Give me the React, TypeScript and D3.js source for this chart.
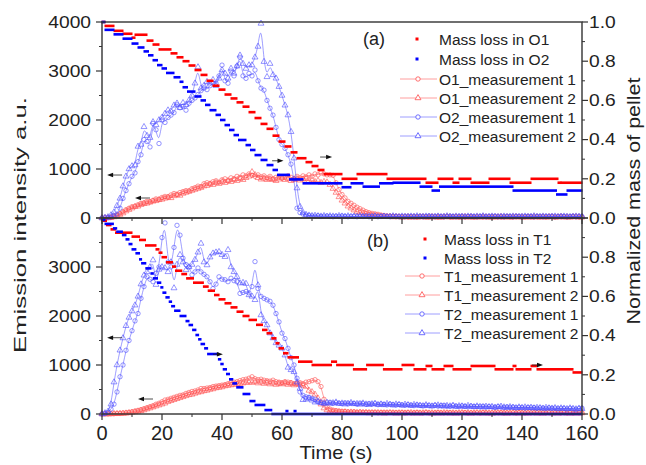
import React from "react";
import * as d3 from "d3";

// ---------------- DATA ----------------
// emission intensity sampled every 1 s (t = 0..160)
const TIME_STEP = 1;

const O1_M1 = [
  0, 0, 5, 10, 40, 60, 90, 130, 170, 200,
  230, 240, 270, 300, 310, 340, 330, 360, 390, 380,
  420, 440, 430, 470, 500, 480, 520, 540, 560, 550,
  600, 620, 650, 640, 700, 720, 700, 740, 760, 730,
  780, 800, 760, 820, 800, 850, 830, 880, 860, 900,
  870, 850, 880, 840, 860, 820, 850, 800, 830, 850,
  810, 840, 860, 830, 800, 850, 820, 860, 840, 880,
  850, 900, 880, 920, 900, 880, 880, 870, 720, 580,
  480, 410, 340, 300, 260, 220, 190, 160, 130, 110,
  95, 85, 75, 60, 50, 40, 35, 30, 25, 30,
  20, 25, 15, 20, 25, 15, 20, 25, 20, 15,
  20, 25, 15, 20, 20, 25, 15, 20, 25, 15,
  20, 15, 25, 20, 15, 20, 25, 15, 20, 20,
  15, 25, 20, 15, 20, 25, 20, 15, 20, 25,
  15, 20, 25, 20, 15, 20, 20, 25, 15, 20,
  25, 15, 20, 20, 25, 15, 20, 25, 20, 15,
  20,
];
const O1_M2 = [
  0, 0, 0, 5, 20, 45, 70, 100, 140, 170,
  200, 230, 240, 270, 290, 300, 320, 340, 350, 370,
  380, 400, 420, 410, 450, 470, 460, 500, 520, 540,
  560, 580, 600, 620, 650, 660, 690, 680, 720, 700,
  740, 720, 760, 740, 780, 760, 800, 780, 820, 850,
  940, 880, 820, 790, 810, 780, 800, 780, 760, 790,
  820, 780, 800, 760, 780, 800, 770, 790, 800, 760,
  780, 740, 760, 720, 740, 730, 680, 600, 520, 430,
  360, 300, 240, 200, 160, 130, 110, 95, 80, 65,
  55, 45, 40, 35, 30, 25, 30, 20, 25, 20,
  15, 20, 25, 15, 20, 15, 25, 20, 15, 20,
  25, 15, 20, 15, 20, 25, 20, 15, 20, 15,
  20, 25, 15, 20, 15, 20, 15, 25, 20, 15,
  20, 15, 20, 25, 15, 20, 15, 20, 25, 15,
  20, 15, 20, 15, 25, 20, 15, 20, 15, 25,
  20, 15, 20, 25, 15, 20, 15, 20, 25, 20,
  15,
];
const O2_M1 = [
  0, 5, 10, 20, 40, 80, 200, 400, 560, 700,
  850, 920, 1150, 1290, 1600, 1560, 1450, 1930, 1800, 1520,
  2000, 1950, 2050, 2100, 2150, 2310, 2250, 2280, 2200, 2340,
  2400, 2450, 2520, 2600, 2650, 2620, 2700, 2760, 2750, 2900,
  3120, 2800, 2750, 3000, 2900, 3100, 3280, 2900, 2850, 2950,
  2900, 3020, 2800, 2650, 2610, 2400, 2240, 2100, 1850, 1600,
  1500, 1420, 1290, 1100, 800, 200, 110, 80, 60, 50,
  40, 35, 45, 30, 35, 40, 30, 25, 35, 30,
  40, 30, 25, 35, 30, 25, 35, 30, 40, 25,
  30, 35, 25, 30, 40, 30, 25, 35, 30, 25,
  30, 25, 35, 30, 25, 30, 35, 25, 30, 40,
  30, 25, 35, 30, 25, 30, 35, 30, 25, 30,
  35, 25, 30, 35, 30, 25, 30, 35, 25, 30,
  30, 35, 25, 30, 25, 35, 30, 25, 30, 35,
  25, 30, 35, 30, 25, 30, 35, 25, 30, 30,
  35, 25, 30, 35, 30, 25, 30, 35, 25, 30,
  30,
];
const O2_M2 = [
  0, 10, 20, 60, 120, 250, 400, 650, 850, 1000,
  1060, 1080, 1460, 1500, 1860, 1680, 1640, 1960, 1900, 2000,
  2050, 2130, 2200, 2180, 2300, 2340, 2250, 2350, 2310, 2400,
  2500, 2750, 3080, 2650, 2700, 2780, 2750, 2820, 2700, 2850,
  3020, 2950, 2850, 3050, 2950, 3100, 3320, 3150, 3050, 3120,
  3120, 3280, 3500, 3970, 3190, 2880, 3150, 2920, 2850, 2680,
  2500, 2300, 2100, 1760, 1220, 610, 230, 110, 70, 55,
  45, 50, 40, 35, 45, 30, 40, 35, 30, 45,
  35, 30, 40, 25, 35, 30, 40, 30, 25, 35,
  30, 40, 25, 30, 35, 25, 30, 40, 30, 25,
  35, 30, 25, 35, 30, 40, 25, 30, 35, 30,
  25, 30, 35, 25, 30, 40, 30, 25, 35, 30,
  30, 25, 35, 30, 25, 35, 30, 40, 25, 30,
  35, 30, 25, 30, 35, 25, 30, 35, 30, 25,
  30, 35, 25, 30, 40, 30, 25, 35, 30, 25,
  30, 35, 25, 30, 35, 30, 25, 30, 35, 30,
  30,
];
const T1_M1 = [
  0, 0, 0, 5, 5, 10, 10, 20, 25, 35,
  45, 60, 75, 90, 110, 130, 150, 170, 200, 220,
  250, 285, 300, 320, 340, 360, 380, 390, 420, 440,
  460, 470, 490, 520, 520, 530, 540, 560, 570, 580,
  590, 600, 620, 640, 650, 660, 680, 700, 710, 730,
  760, 720, 700, 710, 690, 680, 670, 690, 660, 650,
  640, 660, 650, 640, 620, 630, 640, 620, 650, 660,
  680, 700, 660, 560, 300, 150, 100, 80, 70, 60,
  55, 50, 45, 40, 45, 35, 40, 35, 30, 35,
  30, 35, 25, 30, 35, 25, 30, 25, 30, 25,
  30, 25, 30, 20, 25, 30, 25, 20, 30, 25,
  20, 25, 30, 25, 20, 25, 30, 20, 25, 20,
  25, 30, 20, 25, 20, 25, 20, 30, 25, 20,
  25, 20, 25, 30, 20, 25, 20, 25, 20, 30,
  25, 20, 25, 20, 25, 30, 20, 25, 20, 25,
  20, 25, 30, 20, 25, 20, 25, 20, 30, 25,
  25,
];
const T1_M2 = [
  0, 0, 0, 0, 5, 5, 10, 10, 15, 20,
  30, 40, 50, 65, 80, 100, 120, 140, 160, 180,
  200, 220, 250, 270, 290, 310, 330, 350, 370, 390,
  400, 420, 440, 450, 470, 480, 500, 510, 530, 540,
  550, 570, 580, 590, 600, 610, 620, 630, 640, 650,
  640, 660, 630, 650, 620, 640, 610, 630, 600, 620,
  610, 630, 600, 620, 590, 610, 600, 580, 560, 480,
  450, 400, 320, 200, 120, 80, 60, 50, 45, 40,
  35, 40, 30, 35, 30, 25, 30, 25, 30, 20,
  25, 20, 25, 20, 15, 20, 25, 20, 15, 20,
  20, 15, 20, 25, 15, 20, 15, 20, 25, 15,
  20, 15, 20, 15, 25, 20, 15, 20, 15, 20,
  25, 15, 20, 15, 20, 25, 15, 20, 15, 20,
  15, 20, 25, 15, 20, 15, 20, 25, 15, 20,
  15, 20, 15, 25, 20, 15, 20, 15, 20, 25,
  15, 20, 15, 20, 25, 15, 20, 15, 20, 15,
  20,
];
const T2_M1 = [
  0, 10, 30, 100, 200, 450, 760, 1000, 1300, 1500,
  1700, 1900, 2050, 2360, 2600, 2800, 2750, 2700, 2870, 3000,
  3600, 3900, 3100, 3000, 3400, 3850, 3650, 3180, 3050, 3000,
  2840, 2900, 2980, 2900, 2850, 2800, 2700, 2560, 2650, 2800,
  2750, 2740, 2700, 2770, 2720, 2700, 2460, 2480, 2500, 2470,
  2600, 3110, 2560, 2400, 2360, 2330, 2300, 2220, 2050, 1880,
  1650, 1540, 1340, 1150, 1000, 730, 450, 380, 350, 340,
  320, 300, 250, 230, 210, 225, 240, 215, 230, 220,
  210, 230, 205, 220, 215, 200, 225, 210, 195, 215,
  200, 210, 190, 205, 195, 185, 200, 190, 180, 195,
  185, 175, 190, 180, 170, 185, 175, 165, 180, 170,
  165, 175, 160, 170, 180, 160, 155, 170, 160, 150,
  165, 155, 145, 160, 150, 155, 145, 160, 140, 150,
  145, 135, 150, 140, 130, 145, 135, 140, 125, 135,
  130, 120, 135, 125, 130, 115, 125, 120, 110, 125,
  115, 120, 105, 115, 110, 100, 115, 105, 95, 110,
  120,
];
const T2_M2 = [
  0, 20, 50, 200, 650, 1000, 1300, 1550, 1800, 1970,
  2100, 2220, 2400, 2650, 2830, 2900, 3000, 3140, 2640, 2950,
  3000, 2980, 2900, 3100, 2570, 3050, 3250, 3100, 2940, 3000,
  3050, 3150, 3300, 3480, 3100, 3040, 3200, 3280, 3300, 3310,
  3250, 3210, 3350, 3000, 2900, 2800, 2670, 2680, 2660, 2430,
  2400, 2330, 2630, 2020, 1900, 1816, 1650, 1550, 1450, 1400,
  1340, 1200, 950, 900, 860, 650, 520, 290, 300, 320,
  280, 240, 260, 230, 220, 235, 215, 225, 240, 210,
  220, 200, 215, 230, 205, 210, 195, 220, 200, 190,
  205, 215, 190, 200, 185, 210, 195, 180, 200, 190,
  175, 195, 185, 170, 190, 180, 175, 165, 185, 170,
  160, 175, 180, 165, 155, 170, 160, 175, 150, 165,
  160, 150, 170, 155, 145, 160, 150, 140, 155, 145,
  150, 135, 145, 155, 140, 130, 145, 135, 125, 140,
  130, 140, 125, 135, 120, 130, 125, 115, 130, 120,
  115, 125, 110, 120, 115, 105, 120, 110, 100, 115,
  105,
];

// normalized mass: [start s, end s, value]
const MASS_O1 = [
  [0, 1, 1.0], [1, 4, 0.98], [4, 7, 0.955], [7, 10, 0.94], [10, 11, 0.92], [11, 15, 0.935],
  [15, 17, 0.905], [17, 19, 0.885], [19, 23, 0.86], [23, 25, 0.84], [25, 27, 0.82], [27, 29, 0.8],
  [29, 31, 0.778], [31, 33, 0.755], [33, 35, 0.73], [35, 37, 0.7], [37, 39, 0.675], [39, 41, 0.655],
  [41, 43, 0.63], [43, 45, 0.61], [45, 47, 0.59], [47, 49, 0.568], [49, 51, 0.54], [51, 53, 0.51],
  [53, 55, 0.48], [55, 57, 0.455], [57, 59, 0.42], [59, 61, 0.39], [61, 63, 0.365], [63, 65, 0.335],
  [65, 68, 0.305], [68, 70, 0.285], [70, 72, 0.265], [72, 74, 0.245], [74, 80, 0.224], [80, 85, 0.2],
  [85, 95, 0.224], [95, 108, 0.2], [108, 112, 0.18], [112, 117, 0.2], [117, 119, 0.18],
  [119, 123, 0.2], [123, 129, 0.18], [129, 136, 0.2], [136, 143, 0.18], [143, 152, 0.2],
  [152, 153, 0.18], [153, 160, 0.18],
];
const MASS_O2 = [
  [0, 1, 1.0], [1, 4, 0.96], [4, 7, 0.937], [7, 10, 0.915], [10, 12, 0.89], [12, 14, 0.87],
  [14, 15.5, 0.85], [15.5, 17, 0.83], [17, 18.5, 0.805], [18.5, 20, 0.78], [20, 21.5, 0.763],
  [21.5, 24, 0.74], [24, 26, 0.718], [26, 27, 0.695], [27, 28.5, 0.667], [28.5, 31, 0.645],
  [31, 33, 0.62], [33, 34.5, 0.6], [34.5, 36, 0.577], [36, 38, 0.55], [38, 39.5, 0.526],
  [39.5, 41, 0.5], [41, 42.5, 0.474], [42.5, 44, 0.449], [44, 45.5, 0.423], [45.5, 48, 0.398],
  [48, 49.5, 0.372], [49.5, 51, 0.347], [51, 53, 0.321], [53, 55, 0.296], [55, 57, 0.27],
  [57, 58.5, 0.245], [58.5, 62.5, 0.22], [62.5, 67, 0.197], [67, 80, 0.177], [80, 83, 0.157],
  [83, 87, 0.177], [87, 92.5, 0.16], [92.5, 97, 0.177], [97, 106, 0.18], [106, 110, 0.16],
  [110, 112.5, 0.14], [112.5, 137, 0.16], [137, 151.5, 0.14], [151.5, 155, 0.12], [155, 160, 0.14],
];
const MASS_T1 = [
  [0, 1.5, 0.986], [1.5, 3, 0.964], [3, 4.5, 0.942], [4.5, 10, 0.925], [10, 12.5, 0.905],
  [12.5, 14.5, 0.888], [14.5, 18, 0.86], [18, 19, 0.84], [19, 20, 0.823], [20, 21.5, 0.8],
  [21.5, 23.5, 0.774], [23.5, 24.5, 0.752], [24.5, 26.6, 0.731], [26.6, 28.2, 0.714],
  [28.2, 30.5, 0.692], [30.5, 33.8, 0.67], [33.8, 35.4, 0.65], [35.4, 37.5, 0.629],
  [37.5, 39, 0.607], [39, 41, 0.585], [41, 43, 0.565], [43, 45, 0.544], [45, 47, 0.522],
  [47, 49, 0.5], [49, 51.5, 0.48], [51.5, 53.5, 0.455], [53.5, 55, 0.429], [55, 56.6, 0.412],
  [56.6, 58, 0.386], [58, 59, 0.361], [59, 60.5, 0.335], [60.5, 62, 0.31], [62, 65.5, 0.289],
  [65.5, 70, 0.267], [70, 76.5, 0.25], [76.5, 78.2, 0.267], [78.2, 83.8, 0.25],
  [83.8, 88.2, 0.228], [88.2, 93.8, 0.25], [93.8, 100, 0.228], [100, 104, 0.25],
  [104, 108, 0.228], [108, 110, 0.245], [110, 114, 0.228], [114, 117, 0.245],
  [117, 123, 0.228], [123, 131, 0.245], [131, 137, 0.228], [137, 138, 0.245],
  [138, 143, 0.228], [143, 145, 0.245], [145, 157, 0.228], [157, 160, 0.212],
];
const MASS_T2 = [
  [0, 1, 0.99], [1, 3.8, 0.97], [3.8, 4.9, 0.947], [4.9, 6.8, 0.93], [6.8, 8, 0.913],
  [8, 9, 0.891], [9, 10, 0.867], [10, 11.3, 0.84], [11.3, 12.5, 0.82], [12.5, 13.2, 0.789],
  [13.2, 14.6, 0.769], [14.6, 16.3, 0.743], [16.3, 17.1, 0.717], [17.1, 18.5, 0.692],
  [18.5, 19.6, 0.67], [19.6, 20.3, 0.646], [20.3, 21.3, 0.619], [21.3, 22.4, 0.595],
  [22.4, 23.2, 0.573], [23.2, 24.2, 0.55], [24.2, 26, 0.527], [26, 28, 0.5], [28, 29, 0.474],
  [29, 30.2, 0.454], [30.2, 31.3, 0.429], [31.3, 32.2, 0.403], [32.2, 33, 0.381],
  [33, 34.2, 0.357], [34.2, 35.2, 0.335], [35.2, 38.8, 0.306], [38.8, 39.6, 0.279],
  [39.6, 40.4, 0.255], [40.4, 41.5, 0.228], [41.5, 42.5, 0.204], [42.5, 43.6, 0.177],
  [43.6, 44.9, 0.156], [44.9, 47, 0.136], [47, 49.3, 0.102], [49.3, 51, 0.066],
  [51, 54.3, 0.046], [54.3, 56.6, 0.02], [61.3, 62, 0.015], [64, 64.7, 0.015], [56.6, 160, 0.0],
];

// axis ticks
const X_MAJOR = [0, 20, 40, 60, 80, 100, 120, 140, 160];
const X_MINOR = [10, 30, 50, 70, 90, 110, 130, 150];
const I_MAJOR = [0, 1000, 2000, 3000, 4000];
const I_MINOR = [500, 1500, 2500, 3500];
const M_MAJOR = [0, 0.2, 0.4, 0.6, 0.8, 1.0];
const M_MINOR = [0.1, 0.3, 0.5, 0.7, 0.9];

const LEGEND_A = ["Mass loss in O1", "Mass loss in O2", "O1_measurement 1", "O1_measurement 2", "O2_measurement 1", "O2_measurement 2"];
const LEGEND_B = ["Mass loss in T1", "Mass loss in T2", "T1_measurement 1", "T1_measurement 2", "T2_measurement 1", "T2_measurement 2"];

// axis-pointing arrows: [panel, which axis, t from, t to, value]
const ARROWS: [string, string, number, number, number][] = [
  ["a", "I", 6.7, 1.7, 877], ["a", "I", 16, 11, 408],
  ["a", "M", 56.7, 60.5, 0.292], ["a", "M", 72.7, 76.7, 0.311],
  ["b", "I", 6.7, 1.7, 1557], ["b", "I", 17, 12, 306],
  ["b", "M", 37, 40.3, 0.305], ["b", "M", 143.3, 147, 0.25],
];

// ---------------- STYLE ----------------
const FONT = "'Liberation Sans', Arial, Helvetica, sans-serif";
const RED = "#ff0000";
const BLUE = "#0000ff";
const RED_L = "#ff4d4d";
const BLUE_L = "#4d4dff";
const AXIS = "#333333";

const x = d3.scaleLinear().domain([0, 160]).range([102, 582]);
const panels = {
  a: { I: d3.scaleLinear().domain([0, 4000]).range([218, 22]), M: d3.scaleLinear().domain([0, 1]).range([218, 22]) },
  b: { I: d3.scaleLinear().domain([0, 4000]).range([414, 218]), M: d3.scaleLinear().domain([0, 1]).range([414, 218]) },
};

const triPath = d3.symbol(d3.symbolTriangle, 15)() as string;

function Measurement({ values, color, shape, y }: any) {
  const pts: [number, number][] = values.map((v: number, i: number) => [x(i * TIME_STEP), y(v)]);
  const d = d3.line().curve(d3.curveBasis)(pts) as string;
  return (
    <g>
      <path d={d} fill="none" stroke={color} strokeOpacity={0.6} strokeWidth={0.9} />
      {pts.map(([px, py], i) =>
        shape === "circle" ? (
          <circle key={i} cx={px} cy={py} r={2.2} fill="none" stroke={color} strokeOpacity={0.75} strokeWidth={0.8} />
        ) : (
          <path key={i} d={triPath} transform={`translate(${px},${py})`} fill="none" stroke={color} strokeOpacity={0.75} strokeWidth={0.8} />
        )
      )}
    </g>
  );
}

function Mass({ segs, color, y }: any) {
  return (
    <g>
      {segs.map((s: number[], i: number) => (
        <rect key={i} x={x(s[0]) - 0.5} y={y(s[2]) - 1.3} width={Math.max(2.5, x(s[1]) - x(s[0]) + 1)} height={2.6} fill={color} />
      ))}
    </g>
  );
}

function Legend({ labels, tag, x0, xText, lineX0, lineX1, markX, rows, tagX, tagY }: any) {
  const colors = [RED, BLUE, RED_L, RED_L, BLUE_L, BLUE_L];
  const shapes = ["sq", "sq", "circle", "tri", "circle", "tri"];
  return (
    <g fontFamily={FONT} fontSize={15.5} fill="#222">
      <text x={tagX} y={tagY} fontSize={18}>{tag}</text>
      {labels.map((lab: string, i: number) => {
        const cy = rows[i];
        return (
          <g key={i}>
            {shapes[i] === "sq" ? (
              <rect x={x0 - 1.5} y={cy - 1.5} width={3} height={3} fill={colors[i]} />
            ) : (
              <g>
                <line x1={lineX0} x2={lineX1} y1={cy} y2={cy} stroke={colors[i]} strokeOpacity={0.6} strokeWidth={0.9} />
                {shapes[i] === "circle" ? (
                  <circle cx={markX} cy={cy} r={2.2} fill="white" stroke={colors[i]} strokeWidth={0.8} />
                ) : (
                  <path d={triPath} transform={`translate(${markX},${cy})`} fill="white" stroke={colors[i]} strokeWidth={0.8} />
                )}
              </g>
            )}
            <text x={xText} y={cy} dy="0.36em">{lab}</text>
          </g>
        );
      })}
    </g>
  );
}

function Arrow({ a }: any) {
  const [p, ax, t0, t1, v] = a;
  const y = (panels as any)[p][ax](v);
  const x0 = x(t0), x1 = x(t1);
  const dir = x1 > x0 ? 1 : -1;
  return (
    <g>
      <line x1={x0} x2={x1 - dir * 4} y1={y} y2={y} stroke="#222" strokeWidth={0.8} />
      <path d={`M${x1},${y} L${x1 - dir * 6},${y - 2.2} L${x1 - dir * 6},${y + 2.2} Z`} fill="#111" />
    </g>
  );
}

function Axes({ p, labelTopI, labelTopM }: any) {
  const yI = (panels as any)[p].I;
  const yM = (panels as any)[p].M;
  const top = yI(4000), bot = yI(0);
  const fmtM = d3.format(".1f");
  return (
    <g fontFamily={FONT} fill="#222">
      <rect x={102} y={top} width={480} height={bot - top} fill="none" stroke={AXIS} strokeWidth={1.4} />
      {I_MAJOR.map((v) => (
        <g key={"im" + v}>
          <line x1={96} x2={102} y1={yI(v)} y2={yI(v)} stroke={AXIS} strokeWidth={1.2} />
          {(v < 4000 || labelTopI) && (
            <text transform={`translate(91,${yI(v)}) scale(1.2,1)`} textAnchor="end" dy="0.36em" fontSize={16}>{v}</text>
          )}
        </g>
      ))}
      {I_MINOR.map((v) => (
        <line key={"in" + v} x1={99} x2={102} y1={yI(v)} y2={yI(v)} stroke={AXIS} strokeWidth={1} />
      ))}
      {M_MAJOR.map((v) => (
        <g key={"mm" + v}>
          <line x1={582} x2={588} y1={yM(v)} y2={yM(v)} stroke={AXIS} strokeWidth={1.2} />
          {(v < 1 || labelTopM) && (
            <text transform={`translate(589,${yM(v)}) scale(1.2,1)`} textAnchor="start" dy="0.36em" fontSize={16}>{fmtM(v)}</text>
          )}
        </g>
      ))}
      {M_MINOR.map((v) => (
        <line key={"mn" + v} x1={582} x2={585} y1={yM(v)} y2={yM(v)} stroke={AXIS} strokeWidth={1} />
      ))}
      {X_MAJOR.map((t) => (
        <line key={"xm" + t} x1={x(t)} x2={x(t)} y1={bot} y2={bot + 6} stroke={AXIS} strokeWidth={1.2} />
      ))}
      {X_MINOR.map((t) => (
        <line key={"xn" + t} x1={x(t)} x2={x(t)} y1={bot} y2={bot + 3} stroke={AXIS} strokeWidth={1} />
      ))}
    </g>
  );
}

export default function App() {
  const A = panels.a, B = panels.b;
  return (
    <svg width={646} height={465} style={{ position: "absolute", left: 0, top: 0, background: "white" }}>
      <rect x={0} y={0} width={646} height={465} fill="white" />
      {/* panel a data */}
      <Measurement values={O1_M1} color={RED_L} shape="circle" y={A.I} />
      <Measurement values={O1_M2} color={RED_L} shape="tri" y={A.I} />
      <Measurement values={O2_M1} color={BLUE_L} shape="circle" y={A.I} />
      <Measurement values={O2_M2} color={BLUE_L} shape="tri" y={A.I} />
      <Mass segs={MASS_O1} color={RED} y={A.M} />
      <Mass segs={MASS_O2} color={BLUE} y={A.M} />
      {/* panel b data */}
      <Measurement values={T1_M1} color={RED_L} shape="circle" y={B.I} />
      <Measurement values={T1_M2} color={RED_L} shape="tri" y={B.I} />
      <Measurement values={T2_M1} color={BLUE_L} shape="circle" y={B.I} />
      <Measurement values={T2_M2} color={BLUE_L} shape="tri" y={B.I} />
      <Mass segs={MASS_T1} color={RED} y={B.M} />
      <Mass segs={MASS_T2} color={BLUE} y={B.M} />

      {ARROWS.map((a, i) => <Arrow key={i} a={a} />)}

      <Axes p="a" labelTopI={true} labelTopM={true} />
      <Axes p="b" labelTopI={false} labelTopM={false} />

      {/* x tick labels */}
      <g fontFamily={FONT} fontSize={20} fill="#222">
        {X_MAJOR.map((t) => (
          <text key={t} x={x(t)} y={440} textAnchor="middle">{t}</text>
        ))}
      </g>

      <Legend labels={LEGEND_A} tag="(a)" x0={417} xText={439} lineX0={400} lineX1={437} markX={418}
        rows={[39, 59, 79, 98, 117, 136]} tagX={363} tagY={45} />
      <Legend labels={LEGEND_B} tag="(b)" x0={425} xText={444} lineX0={405} lineX1={440} markX={422}
        rows={[239, 258, 276, 295, 314, 333]} tagX={367} tagY={247} />

      {/* axis titles */}
      <g fontFamily={FONT} fill="#222">
        <text transform="translate(26,225) rotate(-90)" textAnchor="middle" fontSize={17} textLength={256} lengthAdjust="spacingAndGlyphs">Emission intensity a.u.</text>
        <text transform="translate(640,201) rotate(-90)" textAnchor="middle" fontSize={18} textLength={247} lengthAdjust="spacingAndGlyphs">Normalized mass of pellet</text>
        <text x={336} y={459} textAnchor="middle" fontSize={18.5} textLength={73} lengthAdjust="spacingAndGlyphs">Time (s)</text>
      </g>
    </svg>
  );
}
